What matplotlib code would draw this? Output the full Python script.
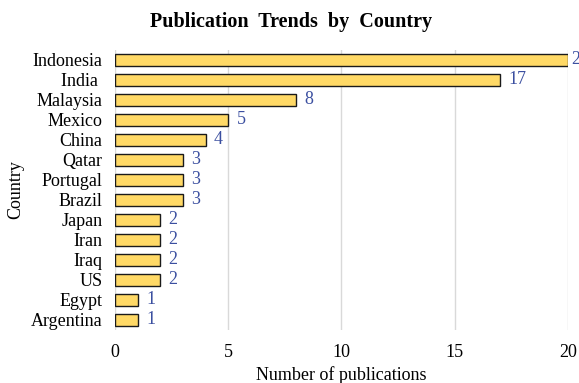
import matplotlib.pyplot as plt

# data
countries = ['Indonesia', 'India ', 'Malaysia', 'Mexico', 'China', 'Qatar', 'Portugal',
             'Brazil', 'Japan', 'Iran', 'Iraq', 'US', 'Egypt', 'Argentina']
publications = [20, 17, 8, 5, 4, 3, 3, 3, 2, 2, 2, 2, 1, 1]
xticks = [0, 5, 10, 15, 20]

plt.rcParams['font.family'] = ['Liberation Serif', 'DejaVu Serif']

fig = plt.figure(figsize=(5.79, 3.83), dpi=100)
ax = fig.add_axes([0.1986, 0.1384, 0.7824, 0.7311])

ypos = list(range(len(countries)))
ax.barh(ypos, publications, height=0.6, color='#FFD966', edgecolor='#1a1a1a', linewidth=1.0, zorder=3)

# value labels (the one at the axis end sits tight against the bar, like the original)
for y, v in zip(ypos, publications):
    off = 2 if v >= xticks[-1] else 6
    ax.annotate(str(v), (v, y), xytext=(off, 0), textcoords='offset points',
                va='center', ha='left', fontsize=13, color='#3B4FA0', annotation_clip=False)

ax.set_xlim(0, 20)
ax.set_ylim(len(countries) - 0.5, -0.5)
ax.set_yticks(ypos)
ax.set_yticklabels(countries, fontsize=13)
ax.set_xticks(xticks)
ax.set_xticklabels([str(t) for t in xticks], fontsize=13)
ax.tick_params(axis='both', length=0)
ax.tick_params(axis='y', pad=9)
ax.tick_params(axis='x', pad=10)

ax.grid(axis='x', color='#d9d9d9', linewidth=1.0, zorder=0)
for s in ax.spines.values():
    s.set_visible(False)

ax.set_xlabel('Number of publications', fontsize=13, labelpad=4)
ax.set_ylabel('Country', fontsize=13, labelpad=5)
fig.text(0.502, 0.943, 'Publication  Trends  by  Country', ha='center', va='center',
         fontsize=14.5, fontweight='bold')

fig.savefig('out.png', dpi=100)
